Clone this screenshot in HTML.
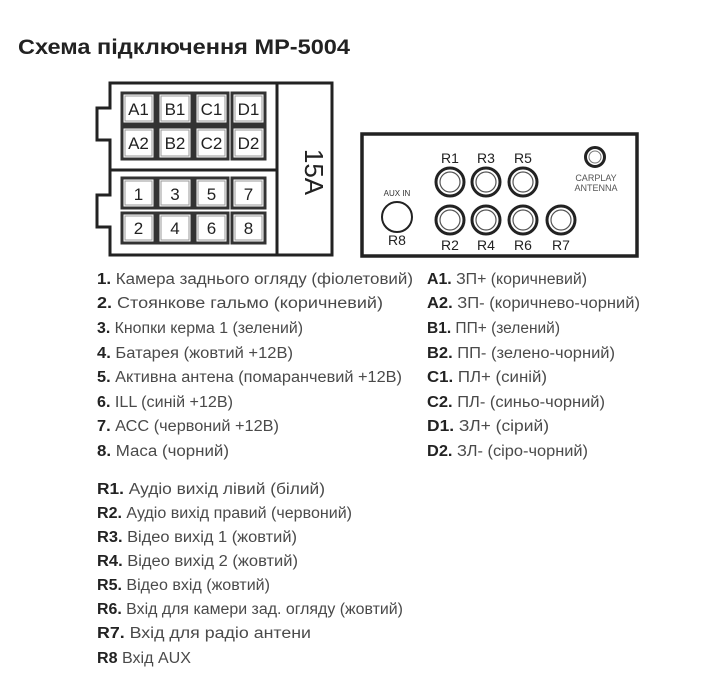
<!DOCTYPE html>
<html><head><meta charset="utf-8"><style>
html,body{margin:0;padding:0;background:#fff;width:717px;height:700px;overflow:hidden}
svg{display:block}
.t{font-family:"Liberation Sans","DejaVu Sans",sans-serif;font-size:15.5px;fill:#4a4a4a}
.b{font-weight:bold;fill:#222}
.c{font-family:"Liberation Sans",sans-serif;font-size:17px;fill:#222;text-anchor:middle}
.r{font-family:"Liberation Sans",sans-serif;font-size:14px;fill:#222;text-anchor:middle}
</style></head><body>
<svg width="717" height="700" viewBox="0 0 717 700" xmlns="http://www.w3.org/2000/svg">
<text x="18" y="54" font-family="Liberation Sans,sans-serif" font-size="21" font-weight="bold" fill="#222" textLength="332" lengthAdjust="spacingAndGlyphs">Схема підключення  MP-5004</text>

<!-- connector -->
<path d="M110 83 H332 V255 H110 V227 H97 V195 H110 V140 H97 V108 H110 Z" fill="none" stroke="#222" stroke-width="3"/>
<line x1="277" y1="83" x2="277" y2="255" stroke="#222" stroke-width="3"/>
<line x1="110" y1="170" x2="277" y2="170" stroke="#222" stroke-width="3"/>
<g fill="#fff" stroke="#333" stroke-width="3">
<rect x="122" y="93" width="33" height="31"/><rect x="158" y="93" width="34" height="31"/><rect x="195" y="93" width="33" height="31"/><rect x="232" y="93" width="33" height="31"/>
<rect x="122" y="127" width="33" height="32"/><rect x="158" y="127" width="34" height="32"/><rect x="195" y="127" width="33" height="32"/><rect x="232" y="127" width="33" height="32"/>
<rect x="122" y="178" width="33" height="30"/><rect x="158" y="178" width="34" height="30"/><rect x="195" y="178" width="33" height="30"/><rect x="232" y="178" width="33" height="30"/>
<rect x="122" y="213" width="33" height="30"/><rect x="158" y="213" width="34" height="30"/><rect x="195" y="213" width="33" height="30"/><rect x="232" y="213" width="33" height="30"/>
</g>
<g fill="none" stroke="#999" stroke-width="1">
<rect x="125" y="96" width="27" height="25"/><rect x="161" y="96" width="28" height="25"/><rect x="198" y="96" width="27" height="25"/><rect x="235" y="96" width="27" height="25"/>
<rect x="125" y="130" width="27" height="26"/><rect x="161" y="130" width="28" height="26"/><rect x="198" y="130" width="27" height="26"/><rect x="235" y="130" width="27" height="26"/>
<rect x="125" y="181" width="27" height="24"/><rect x="161" y="181" width="28" height="24"/><rect x="198" y="181" width="27" height="24"/><rect x="235" y="181" width="27" height="24"/>
<rect x="125" y="216" width="27" height="24"/><rect x="161" y="216" width="28" height="24"/><rect x="198" y="216" width="27" height="24"/><rect x="235" y="216" width="27" height="24"/>
</g>
<text class="c" x="138.5" y="115">A1</text><text class="c" x="175" y="115">B1</text><text class="c" x="211.5" y="115">C1</text><text class="c" x="248.5" y="115">D1</text>
<text class="c" x="138.5" y="149">A2</text><text class="c" x="175" y="149">B2</text><text class="c" x="211.5" y="149">C2</text><text class="c" x="248.5" y="149">D2</text>
<text class="c" x="138.5" y="200">1</text><text class="c" x="175" y="200">3</text><text class="c" x="211.5" y="200">5</text><text class="c" x="248.5" y="200">7</text>
<text class="c" x="138.5" y="234">2</text><text class="c" x="175" y="234">4</text><text class="c" x="211.5" y="234">6</text><text class="c" x="248.5" y="234">8</text>
<text x="296" y="172" font-family="Liberation Sans,sans-serif" font-size="26" fill="#222" text-anchor="middle" transform="rotate(90 296 172)" dy="-9">15A</text>

<!-- right panel -->
<rect x="362" y="134" width="275" height="122" fill="none" stroke="#222" stroke-width="3.5"/>
<g fill="none" stroke="#222">
<g stroke-width="3"><circle cx="450" cy="182" r="14"/><circle cx="486" cy="182" r="14"/><circle cx="523" cy="182" r="14"/>
<circle cx="450" cy="220" r="14"/><circle cx="486" cy="220" r="14"/><circle cx="523" cy="220" r="14"/><circle cx="561" cy="220" r="14"/></g>
<g stroke-width="1.2" stroke="#555"><circle cx="450" cy="182" r="10"/><circle cx="486" cy="182" r="10"/><circle cx="523" cy="182" r="10"/>
<circle cx="450" cy="220" r="10"/><circle cx="486" cy="220" r="10"/><circle cx="523" cy="220" r="10"/><circle cx="561" cy="220" r="10"/></g>
<circle cx="397" cy="217" r="15" stroke-width="2"/>
<circle cx="595" cy="157" r="9.5" stroke-width="3"/><circle cx="595" cy="157" r="6" stroke-width="1" stroke="#777"/>
</g>
<text class="r" x="450" y="163">R1</text><text class="r" x="486" y="163">R3</text><text class="r" x="523" y="163">R5</text>
<text class="r" x="450" y="250">R2</text><text class="r" x="486" y="250">R4</text><text class="r" x="523" y="250">R6</text><text class="r" x="561" y="250">R7</text>
<text class="r" x="397" y="245">R8</text>
<text x="397" y="196" font-family="Liberation Sans,sans-serif" font-size="8" fill="#333" text-anchor="middle">AUX IN</text>
<text x="596" y="181" font-family="Liberation Sans,sans-serif" font-size="9" fill="#555" text-anchor="middle">CARPLAY</text>
<text x="596" y="191" font-family="Liberation Sans,sans-serif" font-size="9" fill="#555" text-anchor="middle">ANTENNA</text>

<!-- left list -->
<g class="t">
<text x="97" y="284" textLength="316" lengthAdjust="spacingAndGlyphs"><tspan class="b">1.</tspan> Камера заднього огляду (фіолетовий)</text>
<text x="97" y="308" textLength="286" lengthAdjust="spacingAndGlyphs"><tspan class="b">2.</tspan>  Стоянкове гальмо (коричневий)</text>
<text x="97" y="333" textLength="206" lengthAdjust="spacingAndGlyphs"><tspan class="b">3.</tspan> Кнопки керма 1 (зелений)</text>
<text x="97" y="358" textLength="196" lengthAdjust="spacingAndGlyphs"><tspan class="b">4.</tspan> Батарея (жовтий +12В)</text>
<text x="97" y="382" textLength="305" lengthAdjust="spacingAndGlyphs"><tspan class="b">5.</tspan> Активна антена (помаранчевий +12В)</text>
<text x="97" y="407" textLength="136" lengthAdjust="spacingAndGlyphs"><tspan class="b">6.</tspan> ILL (синій +12В)</text>
<text x="97" y="431" textLength="182" lengthAdjust="spacingAndGlyphs"><tspan class="b">7.</tspan> АСС (червоний +12В)</text>
<text x="97" y="456" textLength="132" lengthAdjust="spacingAndGlyphs"><tspan class="b">8.</tspan> Маса (чорний)</text>

<text x="427" y="284" textLength="160" lengthAdjust="spacingAndGlyphs"><tspan class="b">A1.</tspan> ЗП+ (коричневий)</text>
<text x="427" y="308" textLength="213" lengthAdjust="spacingAndGlyphs"><tspan class="b">A2.</tspan> ЗП- (коричнево-чорний)</text>
<text x="427" y="333" textLength="133" lengthAdjust="spacingAndGlyphs"><tspan class="b">B1.</tspan> ПП+ (зелений)</text>
<text x="427" y="358" textLength="188" lengthAdjust="spacingAndGlyphs"><tspan class="b">B2.</tspan> ПП- (зелено-чорний)</text>
<text x="427" y="382" textLength="120" lengthAdjust="spacingAndGlyphs"><tspan class="b">C1.</tspan> ПЛ+ (синій)</text>
<text x="427" y="407" textLength="178" lengthAdjust="spacingAndGlyphs"><tspan class="b">C2.</tspan> ПЛ- (синьо-чорний)</text>
<text x="427" y="431" textLength="122" lengthAdjust="spacingAndGlyphs"><tspan class="b">D1.</tspan> ЗЛ+ (сірий)</text>
<text x="427" y="456" textLength="161" lengthAdjust="spacingAndGlyphs"><tspan class="b">D2.</tspan> ЗЛ- (сіро-чорний)</text>

<text x="97" y="494" textLength="228" lengthAdjust="spacingAndGlyphs"><tspan class="b">R1.</tspan> Аудіо вихід лівий (білий)</text>
<text x="97" y="518" textLength="255" lengthAdjust="spacingAndGlyphs"><tspan class="b">R2.</tspan> Аудіо вихід правий (червоний)</text>
<text x="97" y="542" textLength="200" lengthAdjust="spacingAndGlyphs"><tspan class="b">R3.</tspan> Відео вихід 1 (жовтий)</text>
<text x="97" y="566" textLength="201" lengthAdjust="spacingAndGlyphs"><tspan class="b">R4.</tspan> Відео вихід 2 (жовтий)</text>
<text x="97" y="590" textLength="173" lengthAdjust="spacingAndGlyphs"><tspan class="b">R5.</tspan> Відео вхід (жовтий)</text>
<text x="97" y="614" textLength="306" lengthAdjust="spacingAndGlyphs"><tspan class="b">R6.</tspan> Вхід для камери зад. огляду (жовтий)</text>
<text x="97" y="638" textLength="214" lengthAdjust="spacingAndGlyphs"><tspan class="b">R7.</tspan> Вхід для радіо антени</text>
<text x="97" y="663" textLength="94" lengthAdjust="spacingAndGlyphs"><tspan class="b">R8</tspan> Вхід AUX</text>
</g>
</svg>
</body></html>
